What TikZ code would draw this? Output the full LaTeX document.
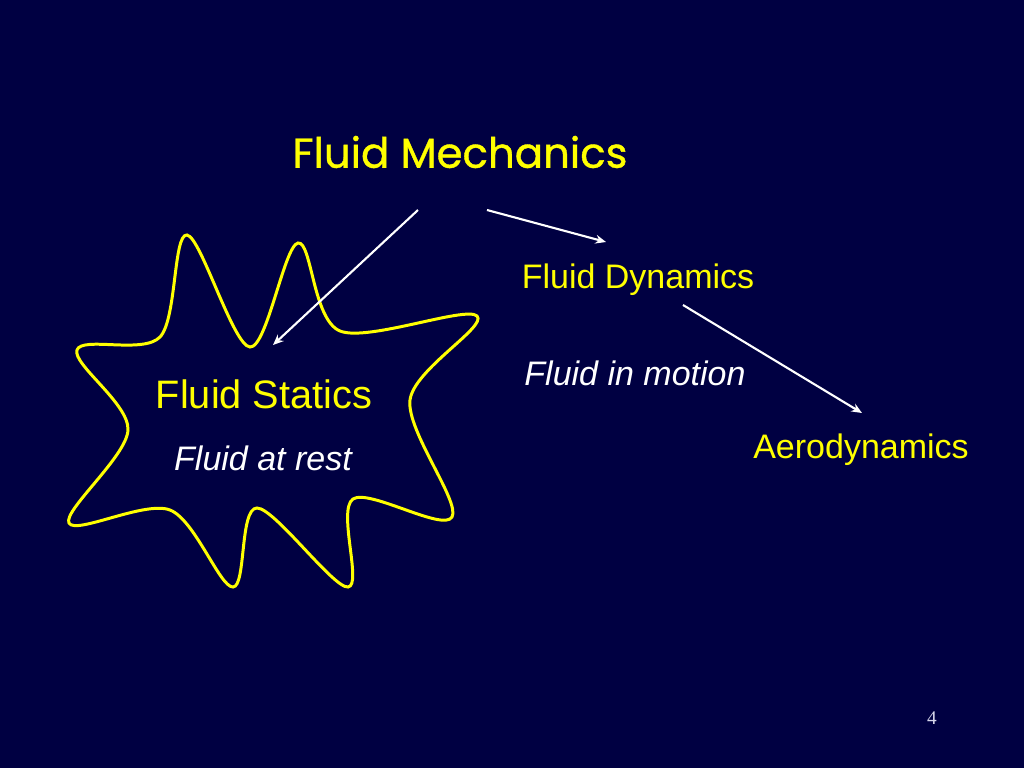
\documentclass[tikz,border=0pt]{standalone}
\usepackage{fontspec}
\usepackage{graphicx}
\setmainfont{Liberation Sans}
\newfontfamily\titlefont[FakeBold=0.9]{Poppins}
\newfontfamily\timesfont{Liberation Serif}
\usetikzlibrary{arrows.meta}
\definecolor{bgnavy}{RGB}{0,0,66}
\definecolor{slideyellow}{RGB}{255,255,0}
\definecolor{pagegray}{RGB}{215,215,235}
\tikzset{
  yellowlabel/.style={text=slideyellow, inner sep=0pt, font=\fontsize{19.35pt}{22pt}\selectfont},
  whitelabel/.style={text=white, inner sep=0pt, font=\fontsize{19.35pt}{22pt}\selectfont\itshape},
  arrowline/.style={draw=white, line width=1.2pt, -{Stealth[length=6pt,width=5pt]}},
  starline/.style={draw=slideyellow, line width=1.7pt}
}
\begin{document}
\begin{tikzpicture}[x=0.02cm,y=-0.02cm]
\fill[bgnavy] (0,0) rectangle (1024,768);
\useasboundingbox (0,0) rectangle (1024,768);

% star
\draw[starline, smooth cycle, tension=0.55] plot coordinates {
 (187,235) (250,347) (298,243) (340,331) (477,316) (410,400)
 (452,517) (353,499) (348,587) (257,508) (233,587) (170,510)
 (69,523) (128,430) (77,350) (160,337)};

\node[text=slideyellow, inner sep=0pt] (title) at (460,152)
  {\resizebox{6.7cm}{!}{\titlefont Fluid Mechanics}};
\node[yellowlabel, font=\fontsize{22.6pt}{26pt}\selectfont] (statics) at (264,394) {Fluid Statics};
\node[whitelabel] (rest) at (263,458) {Fluid at rest};
\node[yellowlabel] (dynamics) at (638,280) {Fluid Dynamics};
\node[whitelabel] (motion) at (635,373) {Fluid in motion};
\node[yellowlabel] (aero) at (861,450) {Aerodynamics};
\node[text=pagegray, inner sep=0pt, font=\fontsize{11pt}{13pt}\timesfont] (page) at (932,718) {4};

\coordinate (a1s) at (418,210);
\coordinate (a1e) at (273,345);
\coordinate (a2s) at (487,210);
\coordinate (a2e) at (606,242);
\coordinate (a3s) at (683,305);
\coordinate (a3e) at (862,413);
\draw[arrowline] (a1s) -- (a1e);
\draw[arrowline] (a2s) -- (a2e);
\draw[arrowline] (a3s) -- (a3e);
\end{tikzpicture}
\end{document}
